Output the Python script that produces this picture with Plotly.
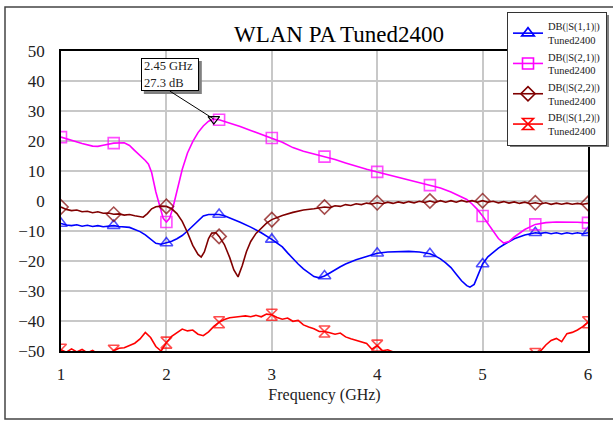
import plotly.graph_objects as go

# ---- S-parameter sweeps (GHz, dB) ----
s11_f = [1.0, 1.05, 1.1, 1.15, 1.2, 1.25, 1.3, 1.35, 1.4, 1.45, 1.5, 1.55, 1.6, 1.65, 1.7, 1.75,
         1.8, 1.85, 1.9, 1.95, 2.0, 2.05, 2.1, 2.15, 2.2, 2.25, 2.3, 2.35, 2.4, 2.45, 2.5, 2.55,
         2.6, 2.7, 2.8, 2.9, 3.0, 3.05, 3.1, 3.15, 3.2, 3.25, 3.3, 3.35, 3.4, 3.45, 3.5, 3.55,
         3.6, 3.65, 3.7, 3.8, 3.9, 4.0, 4.1, 4.2, 4.3, 4.4, 4.5, 4.55, 4.6, 4.65, 4.7, 4.75,
         4.8, 4.85, 4.88, 4.92, 4.96, 5.0, 5.05, 5.1, 5.15, 5.2, 5.3, 5.4, 5.5, 5.55, 5.6, 5.65,
         5.7, 5.75, 5.8, 5.85, 5.9, 5.95, 6.0]
s11_db = [-7.5, -8.0, -8.2, -7.9, -8.4, -8.1, -8.5, -8.2, -8.6, -8.3, -8.2, -8.5, -8.6, -8.8, -9.5, -10.2,
          -11.3, -12.8, -14.1, -14.4, -14.0, -13.4, -12.6, -11.5, -10.0, -8.3, -6.7, -5.0, -4.5, -4.5, -4.5, -4.9,
          -5.6, -7.1, -8.7, -10.6, -12.8, -14.0, -15.3, -17.3, -19.2, -21.0, -22.6, -24.0, -25.2, -25.6, -25.0, -24.0,
          -22.8, -21.9, -21.0, -19.6, -18.5, -17.4, -17.0, -16.9, -16.8, -17.0, -17.6, -18.3, -19.3, -20.6, -22.2, -24.4,
          -26.6, -28.2, -28.7, -27.8, -24.5, -21.0, -18.6, -17.0, -15.7, -14.6, -12.6, -11.3, -10.6, -10.8, -10.5, -10.9,
          -10.6, -11.0, -10.6, -10.9, -10.6, -10.9, -10.6]

s21_f = [1.0, 1.1, 1.2, 1.3, 1.35, 1.4, 1.5, 1.6, 1.65, 1.7, 1.75, 1.8, 1.83, 1.86, 1.9, 1.94,
         1.97, 2.0, 2.03, 2.06, 2.1, 2.15, 2.2, 2.25, 2.3, 2.35, 2.4, 2.45, 2.5, 2.6, 2.7, 2.8,
         2.9, 3.0, 3.1, 3.2, 3.3, 3.4, 3.5, 3.6, 3.7, 3.8, 3.9, 4.0, 4.1, 4.2, 4.3, 4.4,
         4.5, 4.6, 4.7, 4.8, 4.85, 4.9, 4.95, 5.0, 5.05, 5.1, 5.15, 5.2, 5.25, 5.3, 5.4, 5.5,
         5.6, 5.7, 5.8, 5.9, 6.0]
s21_db = [21.3, 20.2, 19.2, 18.3, 18.2, 18.6, 19.3, 19.4, 18.5, 16.8, 15.2, 13.5, 12.3, 9.5, 3.0, -2.5,
          -5.8, -7.0, -5.8, -2.5, 3.5, 10.5, 16.0, 19.8, 22.8, 25.0, 26.6, 27.3, 27.1, 26.0, 24.8, 23.5,
          22.2, 21.0, 19.6, 17.8, 16.6, 15.7, 14.8, 13.8, 12.7, 11.6, 10.6, 9.7, 8.8, 8.0, 7.1, 6.2,
          5.3, 4.3, 3.0, 1.5, 0.5, -1.0, -2.8, -5.0, -7.5, -10.0, -12.5, -14.0, -13.5, -12.0, -9.5, -7.8,
          -7.2, -7.0, -7.0, -7.1, -7.3]

s22_f = [1.0, 1.05, 1.1, 1.15, 1.2, 1.25, 1.3, 1.35, 1.4, 1.45, 1.5, 1.55, 1.6, 1.65, 1.7, 1.75,
         1.78, 1.82, 1.86, 1.9, 1.95, 2.0, 2.05, 2.1, 2.15, 2.2, 2.25, 2.3, 2.33, 2.36, 2.4, 2.43,
         2.47, 2.5, 2.55, 2.6, 2.64, 2.68, 2.72, 2.76, 2.8, 2.85, 2.9, 2.95, 3.0, 3.05, 3.1, 3.2,
         3.3, 3.4, 3.5, 3.55, 3.6, 3.65, 3.7, 3.75, 3.8, 3.85, 3.9, 3.95, 4.0, 4.05, 4.1, 4.15,
         4.2, 4.25, 4.3, 4.35, 4.4, 4.45, 4.5, 4.55, 4.6, 4.65, 4.7, 4.75, 4.8, 4.85, 4.9, 4.95,
         5.0, 5.05, 5.1, 5.15, 5.2, 5.25, 5.3, 5.35, 5.4, 5.45, 5.5, 5.55, 5.6, 5.65, 5.7, 5.75,
         5.8, 5.85, 5.9, 5.95, 6.0]
s22_db = [-2.0, -2.8, -3.2, -3.0, -3.6, -3.4, -3.9, -3.6, -4.1, -4.0, -4.4, -4.3, -4.7, -4.5, -4.9, -5.3,
          -5.4, -4.2, -2.6, -1.9, -1.7, -1.8, -2.6, -4.2, -6.8, -10.5, -14.8, -17.8, -18.7, -17.0, -12.5, -10.7,
          -10.6, -11.8, -14.5, -18.8, -23.0, -25.3, -21.5, -16.8, -13.5, -10.8, -9.0, -7.4, -6.2, -5.5, -4.8, -3.8,
          -3.0, -2.6, -2.0, -2.2, -1.6, -1.8, -1.2, -1.5, -0.9, -1.2, -0.7, -1.0, -0.6, -0.9, -0.4, -0.8,
          -0.3, -0.7, -0.2, -0.6, -0.1, -0.5, 0.0, -0.5, 0.1, -0.4, 0.1, -0.4, 0.2, -0.3, 0.1, -0.4,
          0.1, -0.4, -0.1, -0.6, -0.2, -0.7, -0.3, -0.8, -0.4, -0.9, -0.6, -1.0, -0.6, -1.1, -0.7, -1.1,
          -0.7, -1.1, -0.8, -1.1, -0.8]

s12_f = [1.0, 1.05, 1.1, 1.15, 1.2, 1.25, 1.3, 1.35, 1.4, 1.45, 1.5, 1.55, 1.6, 1.65, 1.7, 1.75,
         1.8, 1.85, 1.9, 1.95, 2.0, 2.05, 2.1, 2.15, 2.2, 2.25, 2.3, 2.35, 2.4, 2.45, 2.5, 2.55,
         2.6, 2.65, 2.7, 2.75, 2.8, 2.85, 2.9, 2.95, 3.0, 3.05, 3.1, 3.15, 3.2, 3.25, 3.3, 3.35,
         3.4, 3.45, 3.5, 3.55, 3.6, 3.65, 3.7, 3.75, 3.8, 3.85, 3.9, 3.95, 4.0, 4.05, 4.1, 4.15,
         4.2, 4.3, 4.4, 4.5, 4.6, 4.7, 4.8, 4.9, 5.0, 5.1, 5.2, 5.3, 5.4, 5.5, 5.55, 5.6,
         5.65, 5.7, 5.75, 5.8, 5.85, 5.9, 5.95, 6.0]
s12_db = [-49.6, -50.4, -49.3, -50.3, -49.5, -50.6, -49.8, -51.0, -50.4, -50.9, -49.9, -49.1, -48.9, -48.1, -47.4, -46.0,
          -43.8, -45.5, -48.5, -50.0, -47.2, -45.1, -43.8, -42.7, -43.3, -43.0, -44.4, -44.9, -43.6, -41.8, -40.4, -39.5,
          -38.9, -38.6, -38.5, -38.3, -38.6, -38.1, -38.6, -37.7, -37.9, -38.8, -39.4, -39.0, -40.1, -39.8, -41.3, -42.0,
          -42.6, -43.5, -43.5, -43.9, -44.4, -44.0, -45.3, -45.9, -46.4, -47.0, -47.5, -49.4, -48.2, -49.9, -49.6, -50.3,
          -51.0, -52.4, -53.6, -54.8, -55.7, -56.5, -57.1, -57.5, -57.4, -56.8, -55.6, -54.1, -52.4, -51.0, -50.0, -48.0,
          -46.5, -45.8, -46.9, -44.2, -43.8, -43.0, -41.9, -40.4]

series_names = ["DB(|S(1,1)|)<br>Tuned2400", "DB(|S(2,1)|)<br>Tuned2400",
                "DB(|S(2,2)|)<br>Tuned2400", "DB(|S(1,2)|)<br>Tuned2400"]

# peak readout on S21
peak_f = 2.45
peak_db = 27.3

x_ticks = [1, 2, 3, 4, 5, 6]
y_ticks = [-50, -40, -30, -20, -10, 0, 10, 20, 30, 40, 50]

SERIF = "Liberation Serif"
TXT = "#222222"
SHADOW = "#808080"

styles = [
    ("#0000ff", "triangle-up-open"),
    ("#ff00ff", "square-open"),
    ("#800000", "diamond-open"),
    ("#ff0000", "hourglass-open"),
]
sweeps = [(s11_f, s11_db), (s21_f, s21_db), (s22_f, s22_db), (s12_f, s12_db)]

MS = 11


def marker_sizes(freqs, size=MS):
    # symbols are drawn every 0.5 GHz along each sweep
    return [size if abs(f * 2 - round(f * 2)) < 1e-6 else 0 for f in freqs]


# plot area geometry (px)
L, R, T, B = 61, 588, 51, 351


def px(xp):
    return (xp - L) / (R - L)


def py(yp):
    return (B - yp) / (B - T)


fig = go.Figure()
for i, ((f, db), name, (color, symbol)) in enumerate(zip(sweeps, series_names, styles)):
    grp = f"s{i}"
    fig.add_trace(go.Scatter(
        x=f, y=db, name=name, mode="lines+markers", legendgroup=grp, showlegend=False,
        line=dict(color=color, width=1.6),
        marker=dict(symbol=symbol, size=marker_sizes(f), color=color,
                    line=dict(color=color, width=1.6)),
    ))
    # legend key for the sweep
    fig.add_trace(go.Scatter(
        x=[None], y=[None], name=name, mode="lines+markers", legendgroup=grp,
        line=dict(color=color, width=1.6),
        marker=dict(symbol=symbol, size=MS, color=color, line=dict(color=color, width=1.6)),
    ))

fig.add_trace(go.Scatter(
    x=[peak_f], y=[peak_db], mode="markers", showlegend=False,
    marker=dict(symbol="triangle-down-open", size=10, color="#000000",
                line=dict(color="#000000", width=1.2)),
))

# readout box: offset of its bottom-centre from the marked point, and its size (px)
BOX_DX, BOX_DY, BOX_W, BOX_H, PAD = -44, -28, 58, 33, 2

fig.add_annotation(
    x=peak_f, y=peak_db, xref="x", yref="y",
    text=f"{peak_f:.2f} GHz<br>{peak_db:.1f} dB",
    showarrow=True, arrowhead=0, arrowwidth=1, arrowcolor="#000000",
    ax=BOX_DX, ay=BOX_DY, xanchor="center", yanchor="bottom",
    width=BOX_W - 2 - 2 * PAD, height=BOX_H - 2 - 2 * PAD, borderpad=PAD,
    align="left", valign="middle",
    bgcolor="#ffffff", bordercolor="#000000", borderwidth=1,
    font=dict(family=SERIF, size=12.5, color=TXT),
)
# its drop shadow, anchored to the same point
fig.add_shape(type="rect", xref="x", yref="y", layer="above",
              xsizemode="pixel", ysizemode="pixel", xanchor=peak_f, yanchor=peak_db,
              x0=BOX_DX - BOX_W / 2 + 3, x1=BOX_DX + BOX_W / 2 + 3,
              y0=-BOX_DY - 3, y1=-BOX_DY + BOX_H - 3,
              line=dict(width=0), fillcolor=SHADOW)

axis_common = dict(
    showgrid=True, gridcolor="#c8c8c8", gridwidth=1.5,
    showline=True, linecolor="#000000", linewidth=1.5, mirror=True,
    ticks="", zeroline=False,
    tickfont=dict(family=SERIF, size=17, color=TXT),
)

fig.update_layout(
    width=613, height=421,
    margin=dict(l=L, r=613 - R, t=T, b=421 - B, autoexpand=False),
    paper_bgcolor="#ffffff", plot_bgcolor="#ffffff",
    title=dict(text="WLAN PA Tuned2400", x=px(339), xref="paper", xanchor="center",
               y=1 - 34 / 421, yref="container", yanchor="middle",
               font=dict(family=SERIF, size=23, color="#000000")),
    xaxis=dict(range=[1, 6], tickvals=x_ticks, ticklabelstandoff=7,
               title=dict(text="Frequency (GHz)", standoff=6,
                          font=dict(family=SERIF, size=16, color=TXT)),
               **axis_common),
    yaxis=dict(range=[-50, 50], tickvals=y_ticks, ticklabelstandoff=11, **axis_common),
    legend=dict(x=px(507), y=py(12), xanchor="left", yanchor="top",
                bgcolor="#ffffff", bordercolor="#333333", borderwidth=1,
                itemwidth=30, tracegroupgap=0,
                font=dict(family=SERIF, size=10.5, color=TXT)),
    showlegend=True,
)

# outer frame of the graph window
fig.add_shape(type="rect", xref="paper", yref="paper",
              x0=px(5), x1=1.2, y0=py(419), y1=py(7),
              line=dict(color="#444444", width=1.5), layer="below")
# legend drop shadow
fig.add_shape(type="rect", xref="paper", yref="paper",
              x0=px(510), x1=px(609), y0=py(147), y1=py(15),
              line=dict(width=0), fillcolor=SHADOW, layer="above")

fig.write_html("out.html")
